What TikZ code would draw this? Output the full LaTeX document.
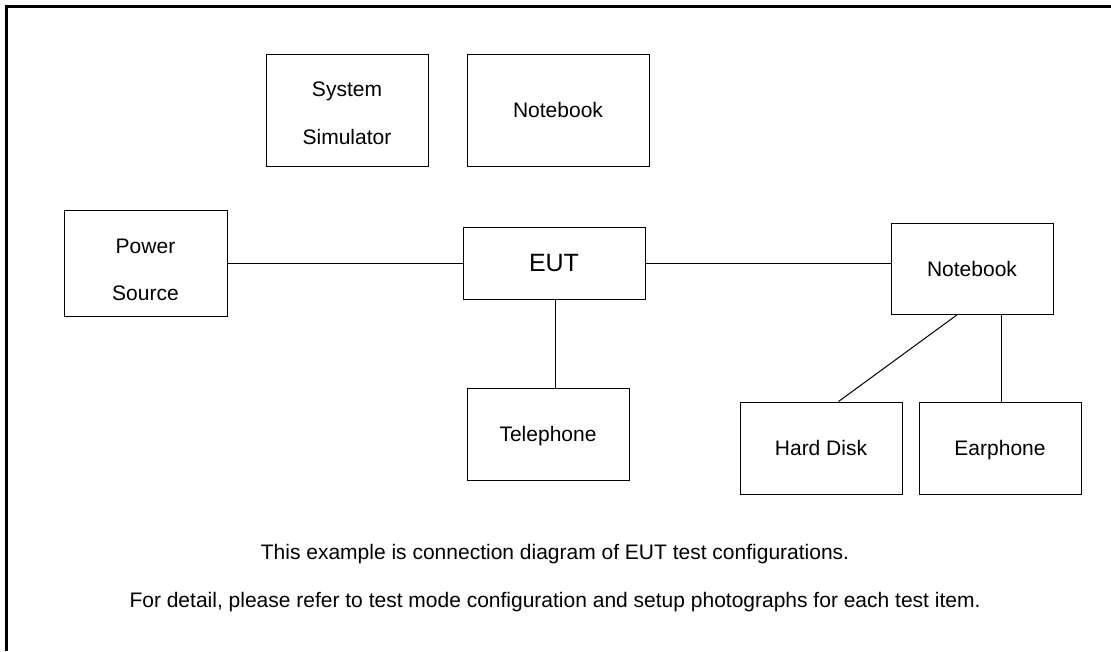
\documentclass[tikz,border=0pt]{standalone}
\usepackage{fontspec}
\setmainfont{Liberation Sans}
\begin{document}
\begin{tikzpicture}[x=1pt,y=-1pt,
  unit/.style={draw=black,line width=1pt,rectangle,inner sep=0pt,
    font=\fontsize{21}{25}\selectfont,text height=15.5pt,text depth=0pt},
  txt/.style={anchor=base,inner sep=0pt,font=\fontsize{21}{25}\selectfont},
  wire/.style={line width=1pt},
  note/.style={anchor=base,font=\fontsize{21}{25}\selectfont}]
\useasboundingbox (0,0) rectangle (1111,651);
% frame: top and left edges only
\draw[line width=2.2pt] (1111,6.5) -- (6.5,6.5) -- (6.5,651);

% equipment
\node[unit,minimum width=162pt,minimum height=112pt] (sim) at (347,110) {};
\node[txt] (sim-a) at (347,96) {System};
\node[txt] (sim-b) at (347,144) {Simulator};
\node[unit,minimum width=182pt,minimum height=112pt] (nbtop) at (558,110) {Notebook};
\node[unit,minimum width=163pt,minimum height=106pt] (power) at (145.5,263) {};
\node[txt] (power-a) at (145.5,253) {Power};
\node[txt] (power-b) at (145.5,300) {Source};
\node[unit,minimum width=182pt,minimum height=72pt,font=\fontsize{25}{30}\selectfont,
  text height=16pt] (eut) at (554,263) {EUT};
\node[unit,minimum width=162pt,minimum height=91pt] (nb) at (972,268.5) {Notebook};
\node[unit,minimum width=162pt,minimum height=92pt] (tel) at (548,434) {Telephone};
\node[unit,minimum width=162pt,minimum height=92pt] (hd) at (821,448) {Hard Disk};
\node[unit,minimum width=162pt,minimum height=92pt] (ear) at (1000,448) {Earphone};

% cabling
\draw[wire] (power.east) -- (eut.west);
\draw[wire] (eut.east) -- (eut.east -| nb.west);
\draw[wire] ([xshift=1.5pt]eut.south) -- ([xshift=1.5pt]eut.south |- tel.north);
\draw[wire] ([xshift=67pt]nb.south west) -- ([xshift=99pt]hd.north west);
\draw[wire] ([xshift=1.5pt]ear.north |- nb.south) -- ([xshift=1.5pt]ear.north);

% notes
\node[note] (n1) at (555,559) {This example is connection diagram of EUT test configurations.};
\node[note] (n2) at (555,607) {For detail, please refer to test mode configuration and setup photographs for each test item.};
\end{tikzpicture}
\end{document}
